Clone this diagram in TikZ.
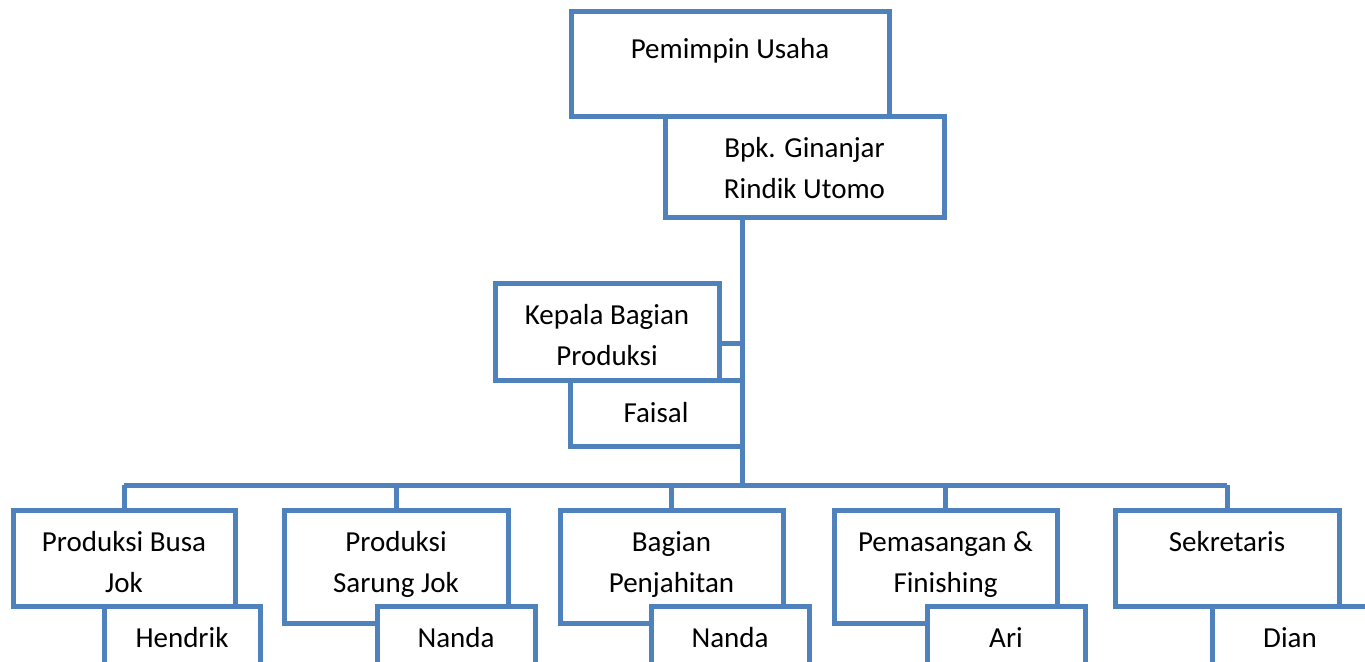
\documentclass[tikz,border=0pt]{standalone}
\usepackage{fontspec}
\setmainfont{Carlito}
\usetikzlibrary{positioning}
\definecolor{orgblue}{HTML}{4F81BD}
\newlength{\pxu}
\setlength{\pxu}{0.5pt}
% isi kotak: teks di bagian atas
\newcommand{\isikotak}[3]{\parbox[c][#2\pxu][t]{#1\pxu}{\centering\rule{0pt}{20.5pt}#3}}

\begin{document}
\begin{tikzpicture}[
      x=0.5pt, y=-0.5pt,
      % gaya kotak
      kotak/.style={rectangle, draw=orgblue, line width=2.5pt, fill=white, inner sep=0pt, outer sep=0pt, anchor=north west},
      % gaya garis penghubung
      garis/.style={draw=orgblue, line width=2.5pt},
      font=\fontsize{14.5pt}{20.5pt}\selectfont
    ]
    \useasboundingbox (0,0) rectangle (1365,662);
    \clip (0,0) rectangle (1365,662);

    % --- pimpinan ---
    \node [kotak] (pimpinan) at (571,12) {\isikotak{318}{105}{\rule{0pt}{23.5pt}Pemimpin Usaha}};
    \node [kotak] (ginanjar) at (665,117) {\isikotak{279}{101}{Bpk. Ginanjar\\Rindik Utomo}};

    % --- kepala bagian ---
    \node [kotak] (kabag) at (495,284) {\isikotak{224}{97}{Kepala Bagian\\Produksi}};
    \node [kotak] (faisal) at (570,381) {\isikotak{172}{66}{Faisal}};

    % --- bagian bawah ---
    \node [kotak] (busa) at (13,510) {\isikotak{222}{96}{Produksi Busa\\Jok}};
    \node [kotak] (sarung) at (284,510) {\isikotak{224}{113}{Produksi\\Sarung Jok}};
    \node [kotak] (jahit) at (560,510) {\isikotak{223}{113}{Bagian\\Penjahitan}};
    \node [kotak] (pasang) at (834,510) {\isikotak{223}{113}{Pemasangan \&\\Finishing}};
    \node [kotak] (sekre) at (1115,510) {\isikotak{224}{96}{Sekretaris}};

    % --- nama ---
    \node [kotak] (hendrik) at (104,606) {\isikotak{156}{66}{Hendrik}};
    \node [kotak] (nanda) at (377,606) {\isikotak{158}{66}{Nanda}};
    \node [kotak] (nandab) at (651,606) {\isikotak{158}{66}{Nanda}};
    \node [kotak] (ari) at (927,606) {\isikotak{158}{66}{Ari}};
    \node [kotak] (dian) at (1212,606) {\isikotak{156}{66}{Dian}};

    % --- garis penghubung ---
    \coordinate (cabang) at (742,485);
    \coordinate (kaki) at ([yshift=-5.75pt]kabag.east);
    \draw [garis] (ginanjar.south -| cabang) -- (cabang);
    \draw [garis] (kaki) -- (kaki -| cabang);
    \draw [garis] (busa.north |- cabang) -- (sekre.north |- cabang);
    \foreach \b in {busa, sarung, jahit, pasang, sekre}
      \draw [garis] (\b.north |- cabang) -- (\b.north);

\end{tikzpicture}
\end{document}
